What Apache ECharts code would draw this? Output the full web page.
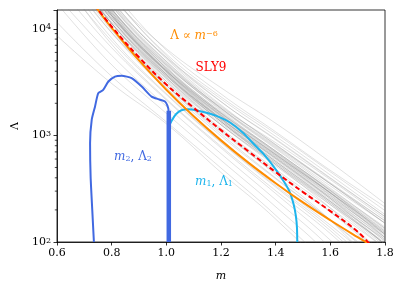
<!DOCTYPE html>
<html><head><meta charset="utf-8">
<script src="https://cdn.jsdelivr.net/npm/echarts@6/dist/echarts.min.js"></script>
<style>html,body{margin:0;padding:0;background:#fff}#c{width:407px;height:293px}</style>
</head><body><div id="c"></div>
<script>
// ---- data ----
const massGrid = [0.6, 0.8, 1.0, 1.2, 1.4, 1.6, 1.8];
const grayCurves = [
  [91840, 20000, 6500, 2800, 1300, 560, 229],
  [110000, 23000, 6300, 2450, 1080, 470, 213],
  [103320, 20500, 5800, 2300, 1040, 455, 197],
  [74620, 17370, 5400, 2200, 980, 425, 181],
  [100000, 21000, 5600, 2080, 910, 395, 173],
  [45920, 9709, 2814, 988, 392, 160, 63],
  [51660, 10220, 2948, 1078, 445, 192, 79],
  [40180, 9198, 2948, 1123, 463, 192, 71],
  [57400, 11242, 3216, 1167, 481, 208, 87],
  [45920, 10220, 3216, 1257, 534, 224, 87],
  [63140, 12264, 3484, 1257, 516, 224, 99],
  [51660, 11242, 3484, 1347, 570, 240, 95],
  [68880, 13286, 3752, 1347, 552, 240, 106],
  [57400, 12264, 3752, 1437, 605, 256, 102],
  [74620, 14308, 4020, 1437, 605, 264, 118],
  [63140, 13286, 4020, 1527, 659, 288, 118],
  [80360, 15330, 4288, 1572, 659, 288, 126],
  [68880, 14308, 4288, 1661, 712, 304, 126],
  [86100, 16352, 4690, 1706, 712, 312, 138],
  [74620, 15330, 4556, 1751, 748, 320, 134],
  [91840, 17374, 4958, 1796, 765, 336, 150],
  [80360, 16352, 4958, 1886, 819, 352, 150],
  [97580, 18396, 5226, 1931, 819, 360, 158],
  [68880, 14819, 4556, 1796, 801, 352, 150],
  [57400, 12775, 4020, 1616, 712, 304, 118],
  [51660, 11242, 3618, 1437, 623, 256, 95],
  [63140, 13286, 4154, 1616, 694, 288, 110],
  [86100, 16863, 4824, 1796, 783, 352, 158],
  [74620, 15330, 4690, 1841, 854, 384, 165],
  [54530, 11753, 3618, 1347, 534, 208, 71],
  [91840, 18396, 5360, 2065, 926, 400, 173],
  [48790, 10220, 3082, 1123, 427, 160, 47],
  [71750, 13797, 3886, 1392, 570, 240, 95],
  [57400, 11242, 3350, 1257, 534, 232, 95],
  [63140, 12264, 3618, 1347, 570, 248, 102],
  [66010, 12775, 3752, 1392, 587, 256, 110],
  [68880, 13286, 3886, 1455, 623, 272, 114],
  [71750, 13797, 4020, 1509, 641, 280, 118],
  [74620, 14308, 4154, 1545, 659, 288, 122],
  [60270, 12264, 3698, 1419, 612, 264, 106],
  [77490, 14819, 4288, 1598, 676, 296, 130],
  [54530, 11242, 3430, 1302, 552, 232, 91],
  [80360, 15330, 4422, 1634, 694, 304, 134],
  [66010, 13286, 3966, 1491, 641, 275, 110],
  [68880, 13797, 4074, 1545, 669, 291, 122],
  [43050, 9198, 2680, 916, 356, 144, 55],
  [37310, 8176, 2466, 871, 338, 136, 47],
  [48790, 10220, 2948, 1033, 399, 160, 59],
  [34440, 7154, 2198, 790, 303, 120, 39],
  [8610, 3066, 1286, 449, 164, 48, 8],
  [11480, 3577, 1340, 494, 178, 56, 12],
  [17220, 4599, 1608, 584, 214, 72, 16],
  [20090, 5621, 1876, 674, 249, 88, 24],
  [25830, 6643, 2144, 763, 285, 104, 32],
  [31570, 7665, 2412, 853, 328, 128, 43]
];
const orangeMass = [0.7, 0.75, 0.8, 0.9, 1.0, 1.1, 1.2, 1.3, 1.4, 1.5, 1.6, 1.7, 1.75];
const orangeLambda = [22780, 15060, 10220, 5045, 2680, 1513, 898, 555, 356, 235, 160, 111, 93];
const slyMass = [0.72, 0.8, 0.9, 1.0, 1.1, 1.2, 1.3, 1.4, 1.5, 1.6, 1.7, 1.75];
const slyLambda = [19200, 10500, 5400, 3000, 1815, 1120, 710, 452, 294, 195, 125, 92];
const m2Mass = [0.735, 0.729, 0.723, 0.721, 0.727, 0.739, 0.751, 0.769, 0.788, 0.812, 0.837, 0.873, 0.91, 0.946, 0.975, 0.995, 1.004, 1.008, 1.008];
const m2Lambda = [100, 200, 410, 846, 1400, 1860, 2490, 2670, 3200, 3560, 3620, 3440, 2870, 2310, 2170, 2080, 1900, 1700, 100];
const m2EdgeMass = [1.009, 1.009];
const m2EdgeLambda = [100, 1700];
const m1Mass = [1.013, 1.013, 1.02, 1.035, 1.055, 1.08, 1.11, 1.15, 1.19, 1.233, 1.28, 1.32, 1.36, 1.40, 1.43, 1.45, 1.465, 1.474, 1.478, 1.479];
const m1Lambda = [100, 1250, 1380, 1580, 1720, 1760, 1720, 1620, 1500, 1320, 1060, 830, 650, 480, 370, 300, 230, 175, 135, 100];
const xTicks = [0.6, 0.8, 1.0, 1.2, 1.4, 1.6, 1.8];
const yMinorTicks = [200, 300, 400, 500, 600, 700, 800, 900, 2000, 3000, 4000, 5000, 6000, 7000, 8000, 9000];

// ---- chart ----
const FONT = 'DejaVu Serif';
const pairs = (xs, ys) => xs.map((x, i) => [x, ys[i]]);
const series = [];
grayCurves.forEach(c => series.push({
  type: 'line', data: pairs(massGrid, c), smooth: 0.4, showSymbol: false, symbol: 'none',
  lineStyle: {color: 'rgba(128,128,128,0.24)', width: 1}, silent: true, z: 1
}));
series.push({type: 'line', data: pairs(m1Mass, m1Lambda), smooth: 0.2, symbol: 'none',
  lineStyle: {color: '#1EB4EC', width: 2}, z: 3});
series.push({type: 'line', data: pairs(m2Mass, m2Lambda), smooth: 0.2, symbol: 'none',
  lineStyle: {color: '#4169E1', width: 2}, z: 4});
series.push({type: 'line', data: pairs(m2EdgeMass, m2EdgeLambda), symbol: 'none',
  lineStyle: {color: '#4169E1', width: 4.5}, z: 4});
series.push({type: 'line', data: pairs(orangeMass, orangeLambda), smooth: 0.4, symbol: 'none',
  lineStyle: {color: '#FF8C00', width: 2}, z: 5});
series.push({type: 'line', data: pairs(slyMass, slyLambda), smooth: 0.4, symbol: 'none',
  lineStyle: {color: '#FF0000', width: 2, type: [5, 3]}, z: 6});
series.push({type: 'custom', data: yMinorTicks.map(v => [0.6, v]), clip: false, silent: true, z: 10,
  renderItem: (params, api) => {
    const p = api.coord([0.6, api.value(1)]);
    return {type: 'line', shape: {x1: p[0], y1: p[1], x2: p[0] - 2.2, y2: p[1]},
      style: {stroke: '#000', lineWidth: 0.7}};
  }});

const supRich = {sup: {fontSize: 8, fontFamily: FONT, verticalAlign: 'top', lineHeight: 8}};

const option = {
  animation: false,
  backgroundColor: '#fff',
  grid: {left: 57, right: 22, top: 10, bottom: 51, show: true, borderColor: '#000', borderWidth: 0.8, backgroundColor: 'transparent'},
  xAxis: {
    type: 'value', min: 0.6, max: 1.8, interval: 0.2,
    name: 'm', nameLocation: 'middle', nameGap: 29,
    nameTextStyle: {fontFamily: FONT, fontStyle: 'italic', fontSize: 11, color: '#000'},
    axisLine: {lineStyle: {color: '#000', width: 0.8}},
    axisTick: {length: 3.5, lineStyle: {color: '#000', width: 0.8}},
    axisLabel: {fontFamily: FONT, fontSize: 11, color: '#000', margin: 6,
      formatter: v => xTicks.some(t => Math.abs(t - v) < 1e-6) ? v.toFixed(1) : ''},
    splitLine: {show: false}
  },
  yAxis: {
    type: 'log', logBase: 10, min: 100, max: 15000,
    name: 'Λ', nameLocation: 'middle', nameGap: 36, nameRotate: 90,
    nameTextStyle: {fontFamily: FONT, fontSize: 11, color: '#000'},
    axisLine: {lineStyle: {color: '#000', width: 0.8}},
    axisTick: {length: 3.5, lineStyle: {color: '#000', width: 0.8}},
    axisLabel: {fontFamily: FONT, fontSize: 11, color: '#000', margin: 6,
      formatter: v => {
        const e = Math.round(Math.log10(v));
        return Math.abs(v - Math.pow(10, e)) < 1e-6 * v ? '10{sup|' + e + '}' : '';
      },
      rich: supRich},
    splitLine: {show: false}
  },
  graphic: [
    {type: 'text', x: 194, y: 36, z: 100, style: {
      text: 'Λ ∝ {i|m}{sup|−6}', fill: '#FF8C00', font: '12px "DejaVu Serif"', align: 'center', verticalAlign: 'middle',
      rich: {i: {fontStyle: 'italic', fontSize: 12, fontFamily: FONT, fill: '#FF8C00'},
             sup: {fontSize: 8, fontFamily: FONT, verticalAlign: 'top', lineHeight: 8, fill: '#FF8C00'}}}},
    {type: 'text', x: 211, y: 68, z: 100, style: {
      text: 'SLY9', fill: '#FF0000', font: '12px "DejaVu Serif"', align: 'center', verticalAlign: 'middle'}},
    {type: 'text', x: 133, y: 157, z: 100, style: {
      text: '{i|m}{sub|2}, Λ{sub|2}', fill: '#4169E1', font: '12px "DejaVu Serif"', align: 'center', verticalAlign: 'middle',
      rich: {i: {fontStyle: 'italic', fontSize: 12, fontFamily: FONT, fill: '#4169E1'},
             sub: {fontSize: 8, fontFamily: FONT, verticalAlign: 'bottom', fill: '#4169E1'}}}},
    {type: 'text', x: 214, y: 182, z: 100, style: {
      text: '{i|m}{sub|1}, Λ{sub|1}', fill: '#1EB4EC', font: '12px "DejaVu Serif"', align: 'center', verticalAlign: 'middle',
      rich: {i: {fontStyle: 'italic', fontSize: 12, fontFamily: FONT, fill: '#1EB4EC'},
             sub: {fontSize: 8, fontFamily: FONT, verticalAlign: 'bottom', fill: '#1EB4EC'}}}}
  ],
  series: series
};
const chart = echarts.init(document.getElementById('c'), null, {renderer: 'canvas'});
chart.setOption(option);
</script>
</body></html>
